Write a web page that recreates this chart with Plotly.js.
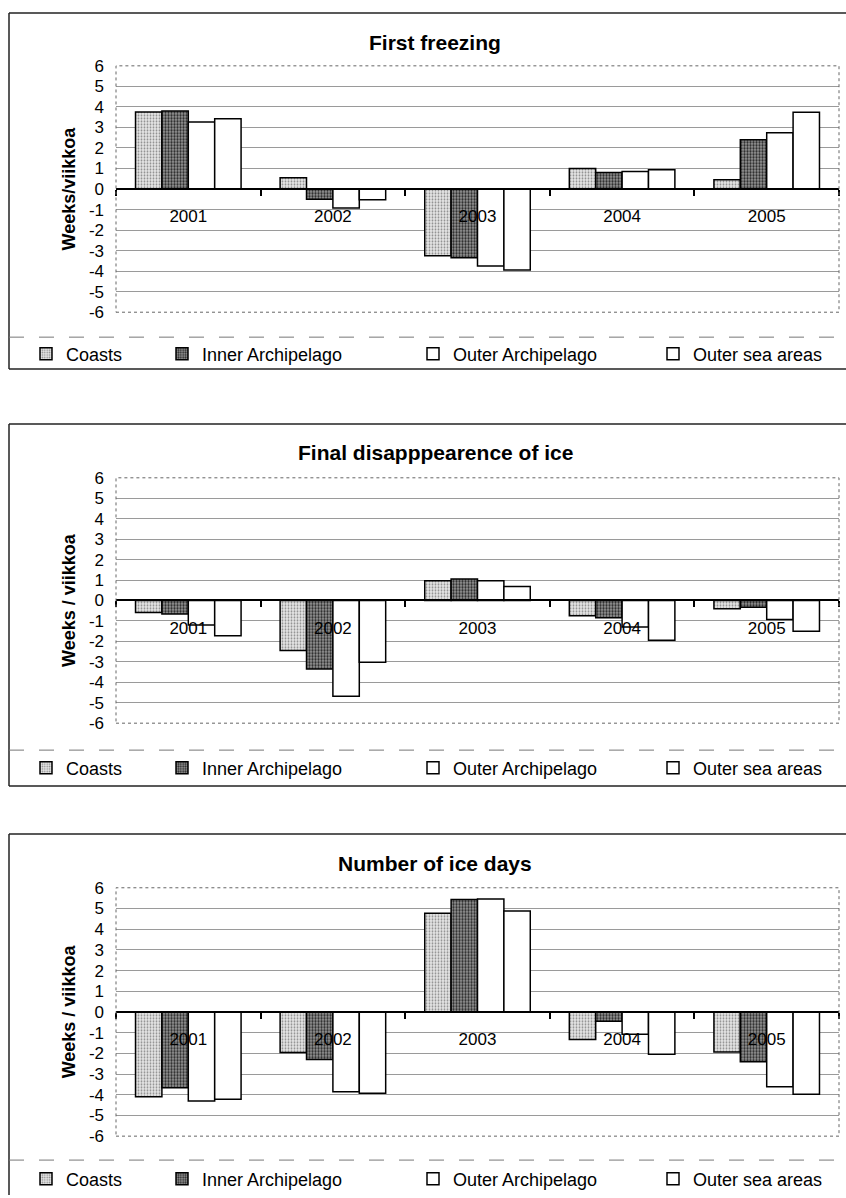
<!DOCTYPE html>
<html>
<head>
<meta charset="utf-8">
<script src="https://cdn.plot.ly/plotly-3.0.1.min.js"></script>
<style>html,body{margin:0;padding:0;background:#fff;}#chart{width:846px;height:1198px;}</style>
</head>
<body>
<div id="chart"></div>
<script>
// ---------- DATA ----------
const years = ['2001', '2002', '2003', '2004', '2005'];
const seriesNames = ['Coasts', 'Inner Archipelago', 'Outer Archipelago', 'Outer sea areas'];
const panelTitles = ['First freezing', 'Final disapppearence of ice', 'Number of ice days'];
const yTitles = ['Weeks/viikkoa', 'Weeks / viikkoa', 'Weeks / viikkoa'];
const yTickVals = [-6, -5, -4, -3, -2, -1, 0, 1, 2, 3, 4, 5, 6];

const freezingCoasts = [3.75, 0.55, -3.25, 1.0, 0.45];
const freezingInner = [3.8, -0.5, -3.35, 0.8, 2.4];
const freezingOuterArch = [3.27, -0.92, -3.75, 0.85, 2.74];
const freezingOuterSea = [3.42, -0.52, -3.95, 0.94, 3.74];

const meltCoasts = [-0.59, -2.45, 0.97, -0.75, -0.4];
const meltInner = [-0.66, -3.35, 1.05, -0.85, -0.33];
const meltOuterArch = [-1.2, -4.68, 0.97, -1.3, -0.93];
const meltOuterSea = [-1.73, -3.02, 0.69, -1.95, -1.5];

const daysCoasts = [-4.1, -1.96, 4.77, -1.33, -1.93];
const daysInner = [-3.66, -2.3, 5.43, -0.45, -2.41];
const daysOuterArch = [-4.3, -3.85, 5.46, -1.08, -3.61];
const daysOuterSea = [-4.22, -3.93, 4.88, -2.04, -3.98];

const panelData = [
  [freezingCoasts, freezingInner, freezingOuterArch, freezingOuterSea],
  [meltCoasts, meltInner, meltOuterArch, meltOuterSea],
  [daysCoasts, daysInner, daysOuterArch, daysOuterSea]
];

// ---------- LAYOUT (pixels) ----------
const W = 846, H = 1198;
const px = p => p / W;
const py = p => 1 - p / H;
const FONT = 'Liberation Sans, Arial, sans-serif';

const panels = [
  {frameTop: 13, title: 43, plotTop: 66, plotBot: 313, sep: 338, legend: 355, frameBot: 370},
  {frameTop: 425, title: 454, plotTop: 479, plotBot: 725, sep: 752, legend: 770, frameBot: 788},
  {frameTop: 836, title: 866, plotTop: 890, plotBot: 1139, sep: 1163, legend: 1182, frameBot: 1215}
];
const plotLeft = 116, plotRight = 839;
const legendTextX = [64, 200, 451, 691];

const styles = [
  {color: '#d4d4d4', pattern: {shape: '.', fgcolor: '#8a8a8a', bgcolor: '#e6e6e6', size: 3, solidity: 0.3}},
  {color: '#6e6e6e', pattern: {shape: '.', fgcolor: '#2a2a2a', bgcolor: '#979797', size: 3, solidity: 0.45}},
  {color: '#ffffff', pattern: null},
  {color: '#ffffff', pattern: null}
];

const traces = [];
const layout = {
  width: W, height: H,
  margin: {l: 0, r: 0, t: 0, b: 0},
  paper_bgcolor: '#ffffff', plot_bgcolor: 'rgba(0,0,0,0)',
  barmode: 'group', bargap: 0.27, bargroupgap: 0,
  font: {family: FONT, color: '#000', size: 17},
  annotations: [], shapes: []
};

let legendIdx = 0;
panels.forEach((p, i) => {
  const sfx = i === 0 ? '' : String(i + 1);
  const yDom = [py(p.plotBot), py(p.plotTop)];
  const mid = (yDom[0] + yDom[1]) / 2;

  panelData[i].forEach((vals, s) => {
    legendIdx += 1;
    const lname = legendIdx === 1 ? 'legend' : 'legend' + legendIdx;
    const marker = {color: styles[s].color, line: {color: '#000', width: 1.5}};
    if (styles[s].pattern) marker.pattern = styles[s].pattern;
    traces.push({
      type: 'bar', x: years, y: vals, name: seriesNames[s],
      xaxis: 'x' + sfx, yaxis: 'y' + sfx,
      marker: marker, legend: lname, showlegend: true,
      hoverinfo: 'skip'
    });
    layout[lname] = {
      x: px(legendTextX[s] - 38), y: py(p.legend), xanchor: 'left', yanchor: 'middle',
      orientation: 'h', bgcolor: 'rgba(0,0,0,0)', borderwidth: 0,
      font: {family: FONT, size: 18, color: '#000'}, itemwidth: 30, tracegroupgap: 0
    };
  });

  layout['xaxis' + sfx] = {
    domain: [px(plotLeft), px(plotRight)],
    anchor: 'free', position: mid,
    type: 'category', categoryorder: 'array', categoryarray: years,
    showline: true, linecolor: '#000', linewidth: 2,
    ticks: 'outside', tickson: 'boundaries', ticklen: 6, tickwidth: 2, tickcolor: '#000',
    ticklabelstandoff: 12,
    tickfont: {family: FONT, size: 17, color: '#000'},
    showgrid: false, zeroline: false, fixedrange: true
  };
  layout['yaxis' + sfx] = {
    domain: yDom, anchor: 'x' + sfx,
    range: [-6, 6], tickvals: yTickVals, ticktext: yTickVals.map(String),
    showgrid: true, gridcolor: '#9a9a9a', gridwidth: 1,
    zeroline: false, showline: false, ticks: '',
    ticklabelstandoff: 11,
    tickfont: {family: FONT, size: 17, color: '#000'},
    title: {text: yTitles[i], font: {family: FONT, size: 18, color: '#000', weight: 'bold'}, standoff: 8},
    fixedrange: true
  };

  layout.annotations.push({
    text: '<b>' + panelTitles[i] + '</b>', showarrow: false,
    xref: 'paper', yref: 'paper', x: px(435), y: py(p.title),
    xanchor: 'center', yanchor: 'middle',
    font: {family: FONT, size: 21, color: '#000'}
  });

  // plot-area dotted border
  layout.shapes.push({
    type: 'rect', xref: 'x' + sfx + ' domain', yref: 'y' + sfx + ' domain',
    x0: 0, x1: 1, y0: 0, y1: 1, line: {color: '#666', width: 1, dash: 'dot'}
  });
  // outer frame: top, left, bottom
  layout.shapes.push({type: 'line', xref: 'paper', yref: 'paper',
    x0: px(9), x1: 1.0, y0: py(p.frameTop), y1: py(p.frameTop), line: {color: '#222', width: 1.5}});
  layout.shapes.push({type: 'line', xref: 'paper', yref: 'paper',
    x0: px(9), x1: px(9), y0: py(p.frameTop), y1: py(Math.min(p.frameBot, H)), line: {color: '#222', width: 1.5}});
  if (p.frameBot < H) {
    layout.shapes.push({type: 'line', xref: 'paper', yref: 'paper',
      x0: px(9), x1: 1.0, y0: py(p.frameBot), y1: py(p.frameBot), line: {color: '#222', width: 1.5}});
  }
  // legend separator
  layout.shapes.push({type: 'line', xref: 'paper', yref: 'paper',
    x0: px(9), x1: 1.0, y0: py(p.sep), y1: py(p.sep), line: {color: '#777', width: 1, dash: 'longdash'}});
});

Plotly.newPlot('chart', traces, layout, {staticPlot: true, displayModeBar: false});
</script>
</body>
</html>
